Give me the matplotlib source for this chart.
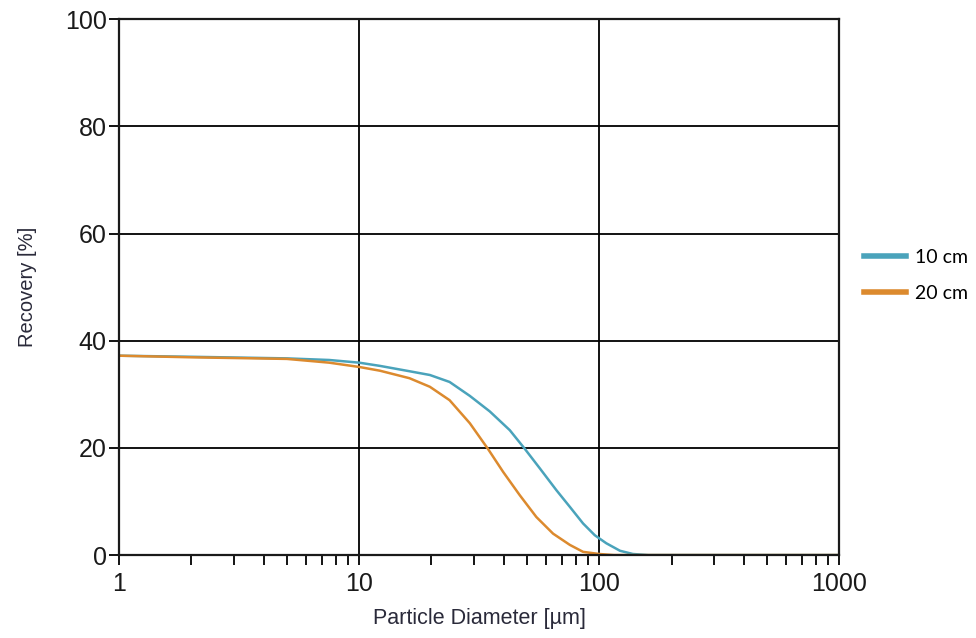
import matplotlib
matplotlib.use("Agg")
import matplotlib.pyplot as plt
from matplotlib.ticker import LogLocator, NullFormatter, FixedLocator

# particle diameter (um) and recovery (%)
d_10cm = [1, 2, 5, 7.5, 10, 12.2, 16.2, 19.7, 23.8, 28.9, 35, 42.4, 49, 56.5,
          66.3, 75.4, 85.6, 95.8, 107, 122, 138, 160, 300, 1000]
r_10cm = [37.2, 37.0, 36.7, 36.4, 35.9, 35.3, 34.3, 33.6, 32.3, 29.7, 26.8, 23.3, 19.8, 16.2,
          12.1, 9.0, 5.9, 3.7, 2.2, 0.8, 0.2, 0.0, 0.0, 0.0]

d_20cm = [1, 2, 5, 7.5, 10, 12.2, 16.2, 19.7, 23.8, 28.9, 34.4, 39.8, 46.6, 54.7,
          64.2, 75.4, 85.6, 100, 115, 300, 1000]
r_20cm = [37.2, 36.9, 36.6, 35.9, 35.1, 34.4, 33.0, 31.4, 28.9, 24.6, 19.8, 15.5, 11.2, 7.1,
          4.0, 1.9, 0.6, 0.2, 0.0, 0.0, 0.0]

labels = ["10 cm", "20 cm"]
colors = ["#4aa3bb", "#dc8a2e"]
y_ticks = [0, 20, 40, 60, 80, 100]
x_ticks = [1, 10, 100, 1000]

plt.rcParams["font.family"] = ["Liberation Sans", "DejaVu Sans"]

fig = plt.figure(figsize=(9.76, 6.38), dpi=100)
ax = fig.add_axes([0.122, 0.13, 0.738, 0.84])

l1, = ax.plot(d_10cm, r_10cm, color=colors[0], lw=1.8)
l2, = ax.plot(d_20cm, r_20cm, color=colors[1], lw=1.8)

ax.set_xscale("log")
ax.set_xlim(1, 1000)
ax.set_ylim(0, 100)
ax.xaxis.set_major_locator(FixedLocator(x_ticks))
ax.set_xticklabels([str(t) for t in x_ticks])
ax.xaxis.set_minor_locator(LogLocator(base=10, subs=range(2, 10)))
ax.xaxis.set_minor_formatter(NullFormatter())
ax.set_yticks(y_ticks)

ax.grid(True, which="major", color="black", lw=1.3)
ax.set_axisbelow(True)
for s in ax.spines.values():
    s.set_linewidth(1.6)
    s.set_color("#1a1a1a")

ax.tick_params(which="both", direction="out", length=7, width=1.3, labelsize=18,
               labelcolor="#1a1a1a")
ax.tick_params(axis="x", pad=5)
ax.tick_params(axis="y", pad=2)

ax.set_xlabel("Particle Diameter [µm]", fontsize=15.5, color="#2a2a3a", labelpad=9)
ax.set_ylabel("Recovery [%]", fontsize=14.5, color="#2a2a3a", labelpad=20)

leg = fig.legend([l1, l2], labels, loc="upper left", bbox_to_anchor=(0.885, 0.610),
                 frameon=False, prop={"family": "Lato", "size": 14},
                 handlelength=2.15, handletextpad=0.46, labelspacing=1.0,
                 borderpad=0, borderaxespad=0)
for h in leg.get_lines():
    h.set_linewidth(4)

fig.savefig("out.png", dpi=100)
